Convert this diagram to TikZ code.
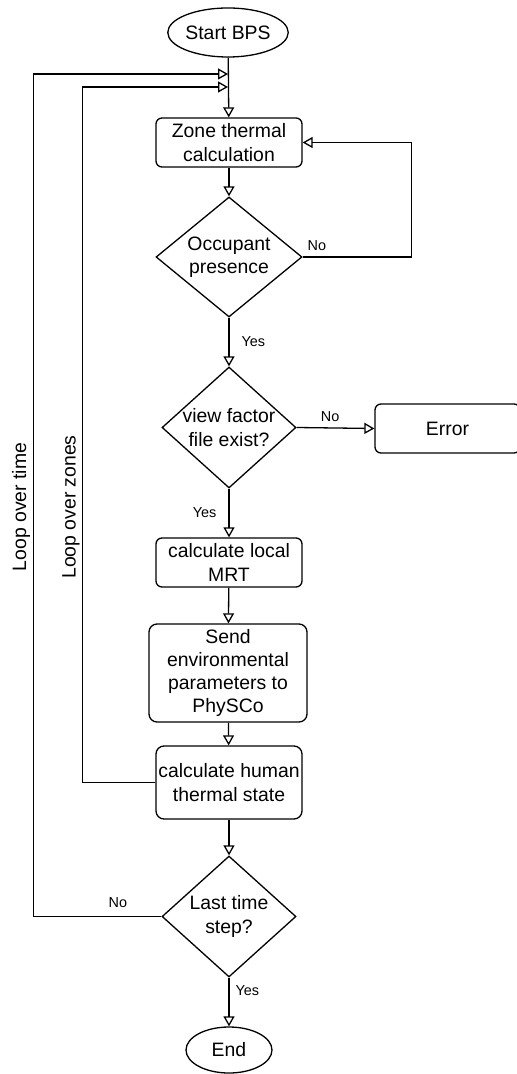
\documentclass[tikz,border=0pt]{standalone}
\usepackage{fontspec}
\setmainfont{Liberation Sans}
\usetikzlibrary{arrows.meta}
\usetikzlibrary{shapes.geometric}

\tikzset{
  flow/.style={draw, line width=0.65pt, -{Triangle[open, length=5pt, width=5.5pt]}},
  procbox/.style={rectangle, draw, line width=0.65pt, rounded corners=3pt, align=center, inner sep=0pt, font=\fontsize{9.7}{11.6}\selectfont},
  termnode/.style={ellipse, draw, line width=0.65pt, inner sep=0pt, font=\fontsize{9.7}{11.6}\selectfont},
  decision/.style={diamond, draw, line width=0.65pt, aspect=1.11, inner sep=-1pt, align=center, minimum width=67pt, minimum height=60.5pt, font=\fontsize{9.7}{11.6}\selectfont},
  lbl/.style={inner sep=1pt, font=\fontsize{7.2}{8}\selectfont},
  looplbl/.style={rotate=90, inner sep=0pt, font=\fontsize{9.7}{11.6}\selectfont}
}

\begin{document}
\begin{tikzpicture}[x=0.5pt, y=-0.5pt]
    \useasboundingbox (0,0) rectangle (516,1074);

    \node[termnode, minimum width=55pt, minimum height=24.5pt] (start) at (228,32.5) {Start BPS};
    \node[procbox, minimum width=73pt, minimum height=24.5pt] (zone) at (229,142.5) {Zone thermal\\calculation};
    \node[decision, aspect=1.22, minimum width=73pt, minimum height=60pt] (occ) at (229,257) {Occupant\\presence};
    \node[decision] (vf) at (229,427.5) {view factor\\file exist?};
    \node[procbox, minimum width=72.5pt, minimum height=24.5pt] (error) at (447.5,428.5) {Error};
    \node[procbox, minimum width=73pt, minimum height=24.5pt] (mrt) at (229,562.5) {calculate local\\MRT};
    \node[procbox, rounded corners=4pt, minimum width=79pt, minimum height=49pt] (send) at (228,673) {Send\\environmental\\parameters to\\PhySCo};
    \node[procbox, rounded corners=4pt, minimum width=73pt, minimum height=36.5pt] (human) at (229,782.5) {calculate human\\thermal state};
    \node[decision] (last) at (229,916.5) {Last time\\step?};
    \node[termnode, minimum width=43pt, minimum height=23pt] (end) at (229,1050) {End};

    \coordinate (tjoin) at (228,74);
    \coordinate (zjoin) at (228,87);

    \node[looplbl] (ltime) at (21,507) {Loop over time};
    \node[looplbl] (lzones) at (71,507) {Loop over zones};

    % main line
    \draw[flow] (start) -- (zone);
    \draw[flow] (zone) -- (occ);
    \draw[flow] (occ) -- node[lbl, midway, right=5pt] {Yes} (vf);
    \draw[flow] (vf.east) -- node[lbl, pos=0.43, above=2pt] {No} (error.west);
    \draw[flow] (vf) -- node[lbl, midway, left=5pt] {Yes} (mrt);
    \draw[flow] (mrt) -- (send);
    \draw[flow] (send) -- (human);
    \draw[flow] (human) -- (last);
    \draw[flow] (last) -- node[lbl, pos=0.26, right=2pt] {Yes} (end);

    % loops
    \draw[flow] (occ.east) -- node[lbl, pos=0.13, above=2pt] {No} ++(109,0) |- (zone.east);
    \draw[flow] (human.west) -- ++(-73,0) |- (zjoin);
    \draw[flow] (last.west) -- node[lbl, pos=0.34, above=3pt] {No} ++(-128,0) |- (tjoin);
\end{tikzpicture}
\end{document}
